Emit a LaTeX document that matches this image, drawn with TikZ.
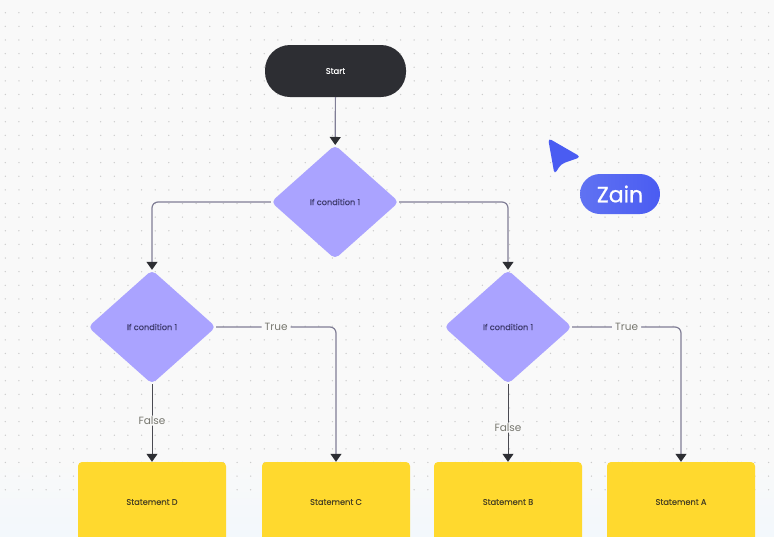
\documentclass[tikz,border=0pt]{standalone}
\usepackage{fontspec}
\setmainfont{Poppins}
\newfontfamily\boxfont[FakeBold=0.1]{Poppins}
\newfontfamily\pillfont[FakeBold=0.7]{Poppins}
\usepackage{xcolor}
\usetikzlibrary{arrows.meta, shapes.geometric}
\definecolor{paper}{HTML}{F9F9F9}
\definecolor{paperlow}{HTML}{F3F8FC}
\definecolor{griddot}{HTML}{CCCCCC}
\definecolor{inkdark}{HTML}{2D2E33}
\definecolor{decide}{HTML}{AAA3FF}
\definecolor{decidetext}{HTML}{3A3768}
\definecolor{stateyellow}{HTML}{FFD92E}
\definecolor{statetext}{HTML}{4A4222}
\definecolor{linepale}{HTML}{807E96}
\definecolor{linedark}{HTML}{4A4A52}
\definecolor{labeltext}{HTML}{77776F}
\definecolor{cursorblue}{HTML}{4A5CF2}
\definecolor{pillblue}{HTML}{6072F2}

\begin{document}
\begin{tikzpicture}[x=1pt,y=-1pt,>={Triangle[length=8pt,width=11pt,color=inkdark]},
  startbox/.style={rounded corners=25pt, fill=inkdark, text=white, minimum width=141pt,
    minimum height=52pt, font=\boxfont\fontsize{8.2}{10}\selectfont},
  decision/.style={diamond, rounded corners=5pt, fill=decide, text=decidetext, inner sep=0pt,
    minimum width=128pt, minimum height=114pt, font=\boxfont\fontsize{8.2}{10}\selectfont},
  statement/.style={rounded corners=4pt, fill=stateyellow, text=statetext, minimum width=148pt,
    minimum height=80pt, font=\boxfont\fontsize{8.2}{10}\selectfont},
  flowline/.style={->, line width=1.2pt, rounded corners=6pt, color=linepale},
  falseline/.style={flowline, line width=1pt, color=linedark},
  edgelabel/.style={fill=paper, text=labeltext, inner xsep=3pt, inner ysep=1pt,
    font=\fontsize{10.5}{12}\selectfont}]
  \useasboundingbox (0,0) rectangle (774,536);
  \clip (0,0) rectangle (774,536);

  % Canvas
  \fill[paper] (0,0) rectangle (774,460);
  \shade[top color=paper, bottom color=paperlow] (0,460) rectangle (774,536);
  \foreach \i in {0,...,56}
    \foreach \j in {0,...,35}
      \fill[griddot] ({5.3+13.63*\i},{12.7+13.63*\j}) circle (0.75);

  % Nodes
  \node[startbox] (start) at (335.5,71) {Start};
  \node[decision] (top) at (335,202) {If condition 1};
  \node[decision] (left) at (152,327) {If condition 1};
  \node[decision] (right) at (508,327) {If condition 1};
  \node[statement] (stD) at (152,502) {Statement D};
  \node[statement] (stC) at (336,502) {Statement C};
  \node[statement] (stB) at (508,502) {Statement B};
  \node[statement] (stA) at (681,502) {Statement A};

  % Connectors
  \draw[flowline] (start) -- (top);
  \draw[flowline] (top.west) -| (left.north);
  \draw[flowline] (top.east) -| (right.north);
  \draw[flowline] (left.east) -| node[edgelabel, pos=0.25] {True} (stC.north);
  \draw[flowline] (right.east) -| node[edgelabel, pos=0.25] {True} (stA.north);
  \draw[falseline] (left.south) -- node[edgelabel, pos=0.47] {False} (stD.north);
  \draw[falseline] (right.south) -- node[edgelabel, pos=0.56] {False} (stB.north);

  % Cursor
  \fill[cursorblue, rounded corners=4pt] (548,138) -- (581,157) -- (561,164) -- (554.5,174.5) -- cycle;
  \node[rounded corners=20pt, left color=pillblue, right color=cursorblue, text=white,
    minimum width=80pt, minimum height=40pt, font=\pillfont\fontsize{22}{24}\selectfont] (zain) at (620,194) {Zain};
\end{tikzpicture}
\end{document}
